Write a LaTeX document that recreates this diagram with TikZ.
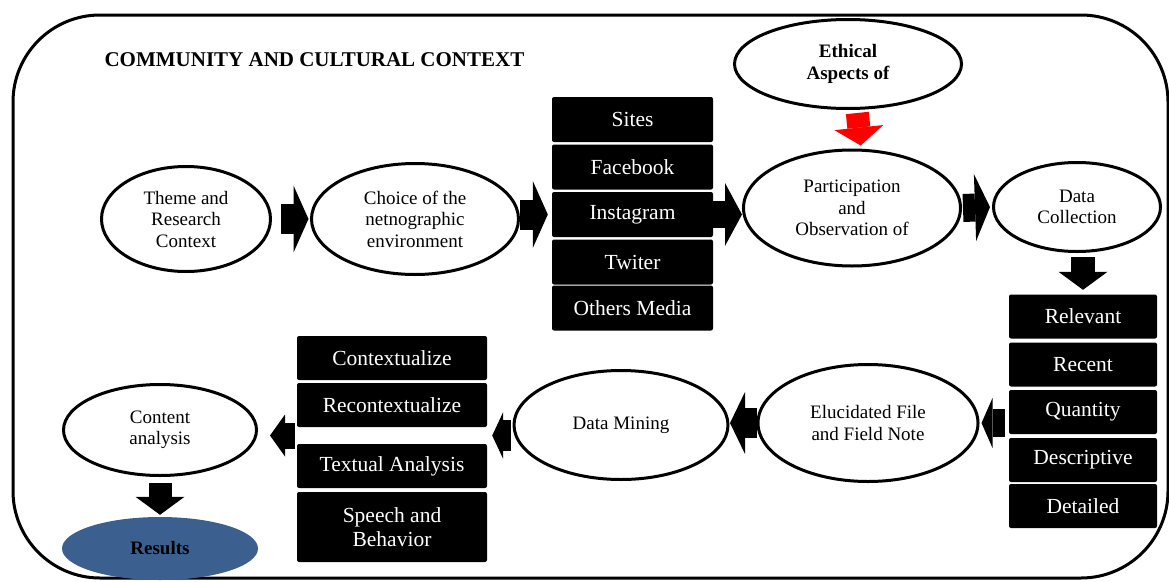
\documentclass[tikz,border=0pt]{standalone}
\usepackage{fontspec}
\setmainfont{Liberation Serif}
\usetikzlibrary{shapes.geometric,arrows.meta,calc}
\definecolor{resblue}{RGB}{59,95,143}
\begin{document}
\begin{tikzpicture}[x=1pt,y=-1pt,
  ell/.style={ellipse,draw,line width=3pt,inner sep=0pt,align=center,
    font=\fontsize{19}{21.5}\selectfont},
  bx/.style={fill=black,rounded corners=2pt,text=white,minimum width=#1,
    minimum height=44pt,inner sep=0pt,align=center,
    font=\fontsize{21.5}{24}\selectfont},
  barrow/.style n args={3}{line width=#1,
    -{Triangle[width=#2,length=#3,line width=0pt]}},
]
\useasboundingbox (0,0) rectangle (1169,581);
% frame
\draw[line width=3pt,rounded corners=87pt] (13,15) rectangle (1168,578);
\node[anchor=west,font=\bfseries\fontsize{21}{24}\selectfont] (title) at (101,60) {COMMUNITY AND CULTURAL CONTEXT};

% ellipses
\node[ell,minimum width=227pt,minimum height=89pt,font=\bfseries\fontsize{19}{21.5}\selectfont] (ethical) at (848,64) {Ethical\\Aspects of};
\node[ell,minimum width=169pt,minimum height=105pt] (theme) at (186,219) {Theme and\\Research\\Context};
\node[ell,minimum width=207pt,minimum height=111pt] (choice) at (415,219) {Choice of the\\netnographic\\environment};
\node[ell,minimum width=217pt,minimum height=116pt] (part) at (852,208) {Participation\\and\\Observation of};
\node[ell,minimum width=167pt,minimum height=89pt] (datacol) at (1077,207) {Data\\Collection};
\node[ell,minimum width=220pt,minimum height=117pt] (eluc) at (868,423) {Elucidated File\\and Field Note};
\node[ell,minimum width=214pt,minimum height=109pt] (mining) at (621,425) {Data Mining};
\node[ell,minimum width=193pt,minimum height=91pt] (content) at (160,430) {Content\\analysis};
\node[ellipse,fill=resblue,inner sep=0pt,minimum width=196pt,minimum height=63pt,
  font=\bfseries\fontsize{19}{21.5}\selectfont] (results) at (160,548.5) {Results};

% column 1
\node[bx=161pt,minimum height=45pt] (sites) at (632.5,119.5) {Sites};
\node[bx=161pt,minimum height=45pt] (facebook) at (632.5,167) {Facebook};
\node[bx=161pt,minimum height=45pt] (insta) at (632.5,214.5) {Instagram};
\node[bx=161pt,minimum height=45pt] (twiter) at (632.5,262) {Twiter};
\node[bx=161pt,minimum height=45pt] (others) at (632.5,308) {Others Media};
% column 2
\node[bx=148pt] (relevant) at (1083,316.5) {Relevant};
\node[bx=148pt] (recent) at (1083,364.5) {Recent};
\node[bx=148pt] (quantity) at (1083,412) {Quantity};
\node[bx=148pt] (descr) at (1083,460) {Descriptive};
\node[bx=148pt] (detailed) at (1083,506) {Detailed};
% column 3
\node[bx=190pt] (context) at (392,358) {Contextualize};
\node[bx=190pt] (recon) at (392,405) {Recontextualize};
\node[bx=190pt] (textual) at (392,466) {Textual Analysis};
\node[bx=190pt,minimum height=70pt] (speech) at (392,527) {Speech and\\Behavior};

\coordinate (gapR) at ($(recon.south east)!0.5!(textual.north east)$);
\coordinate (gapL) at ($(recon.south west)!0.5!(textual.north west)$);

% arrows
\draw[barrow={30pt}{67pt}{15pt},shorten <=8.5pt,shorten >=1.5pt] (theme.east) -- (choice.west);
\draw[barrow={30pt}{67pt}{15pt},shorten >=4pt] (choice.east |- insta.west) -- (insta.west);
\draw[barrow={27pt}{63pt}{17pt}] (insta.east) -- (insta.east -| part.west);
\draw[barrow={28pt}{67pt}{15pt},shorten <=1pt,shorten >=2pt] (part.east) -- (datacol.west);
\draw[barrow={23pt}{49pt}{18pt},red,shorten <=3pt,shorten >=3pt] ([xshift=9pt]ethical.south) -- ([xshift=9pt]part.north);
\draw[barrow={24pt}{49pt}{18pt},shorten <=4pt,shorten >=4.5pt] (datacol.south -| relevant.north) -- (relevant.north);
\draw[barrow={28pt}{50pt}{11pt},shorten <=4pt,shorten >=2pt] (quantity.west |- eluc.east) -- (eluc.east);
\draw[barrow={30pt}{62pt}{15pt},shorten >=0.5pt] (eluc.west) -- (eluc.west -| mining.east);
\draw[barrow={31pt}{47pt}{11pt},shorten <=2pt,shorten >=5pt] (mining.west |- gapR) -- (gapR);
\draw[barrow={26pt}{42pt}{15pt},shorten <=2pt,shorten >=12pt] (gapL) -- (gapL -| content.east);
\draw[barrow={23pt}{49pt}{18pt},shorten <=6pt,shorten >=2pt] (content.south) -- (results.north);
\end{tikzpicture}
\end{document}
